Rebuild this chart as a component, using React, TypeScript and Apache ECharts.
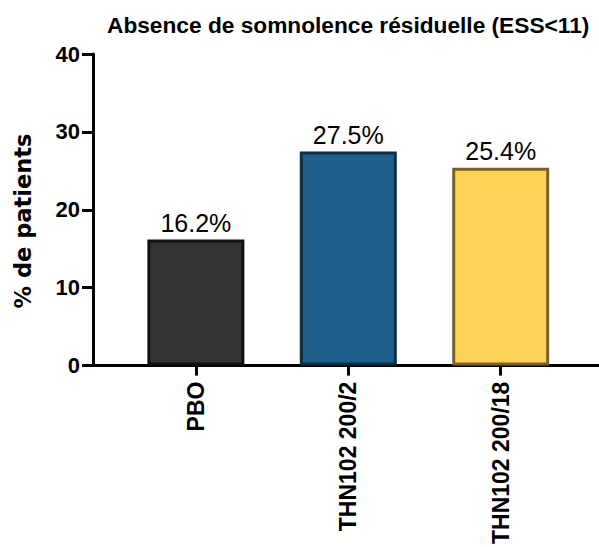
import React, { useEffect, useRef } from "react";
import * as echarts from "echarts";

const titleText = "Absence de somnolence résiduelle (ESS<11)";
const categories = ["PBO", "THN102 200/2", "THN102 200/18"];
const values = [16.2, 27.5, 25.4];
const fillColors = ["#333333", "#1e5f8e", "#fcd357"];
const borderColors = ["#111111", "#0c2d42", "#7d5f2a"];
const yTicks = [0, 10, 20, 30, 40];
const yAxisName = "% de patients";

const FONT = "'Liberation Sans', Arial, Helvetica, sans-serif";

export default function App() {
  const ref = useRef<HTMLDivElement>(null);
  useEffect(() => {
    if (!ref.current) return;
    const chart = echarts.init(ref.current, undefined, { renderer: "svg" });
    const idx = categories.map((_, i) => i);
    chart.setOption({
      animation: false,
      backgroundColor: "#ffffff",
      title: {
        text: titleText,
        left: 102,
        top: 8,
        textStyle: { fontFamily: FONT, fontSize: 22.7, fontWeight: "bold", color: "#000" },
      },
      graphic: [
        {
          type: "text",
          x: 23,
          y: 221,
          rotation: Math.PI / 2,
          style: {
            text: yAxisName,
            align: "center",
            verticalAlign: "middle",
            fontFamily: "'DejaVu Sans', sans-serif",
            fontSize: 22.5,
            fontWeight: "bold",
            fill: "#000",
          },
        },
      ],
      grid: { left: 93, right: 0, top: 54, bottom: 181, containLabel: false },
      xAxis: {
        type: "value",
        min: -0.675,
        max: 2.645,
        splitLine: { show: false },
        axisLine: { show: true, onZero: false, lineStyle: { color: "#000", width: 3 } },
        axisTick: {
          show: true,
          length: 10,
          lineStyle: { color: "#000", width: 3 },
          customValues: idx,
        },
        axisLabel: {
          customValues: idx,
          rotate: 90,
          margin: 16,
          fontFamily: FONT,
          fontSize: 23,
          fontWeight: "bold",
          color: "#000",
          formatter: (v: number) => categories[Math.round(v)] ?? "",
        },
      },
      yAxis: {
        type: "value",
        min: yTicks[0],
        max: yTicks[yTicks.length - 1],
        interval: 10,
        splitLine: { show: false },
        axisLine: { show: true, onZero: false, lineStyle: { color: "#000", width: 3 } },
        axisTick: { show: true, length: 11, lineStyle: { color: "#000", width: 3 } },
        axisLabel: {
          margin: 13,
          fontFamily: FONT,
          fontSize: 22,
          fontWeight: "bold",
          color: "#000",
        },
      },
      series: [
        {
          type: "bar",
          barWidth: 97,
          data: values.map((v, i) => ({
            value: [i, v],
            itemStyle: { color: fillColors[i], borderColor: borderColors[i], borderWidth: 3 },
          })),
          label: {
            show: true,
            position: "top",
            distance: 4,
            fontFamily: FONT,
            fontSize: 25,
            color: "#000",
            formatter: (p: any) => `${p.value[1].toFixed(1)}%`,
          },
        },
      ],
    });
    return () => chart.dispose();
  }, []);
  return (
    <div
      ref={ref}
      style={{ position: "fixed", left: 0, top: 0, width: 599, height: 547 }}
    />
  );
}
